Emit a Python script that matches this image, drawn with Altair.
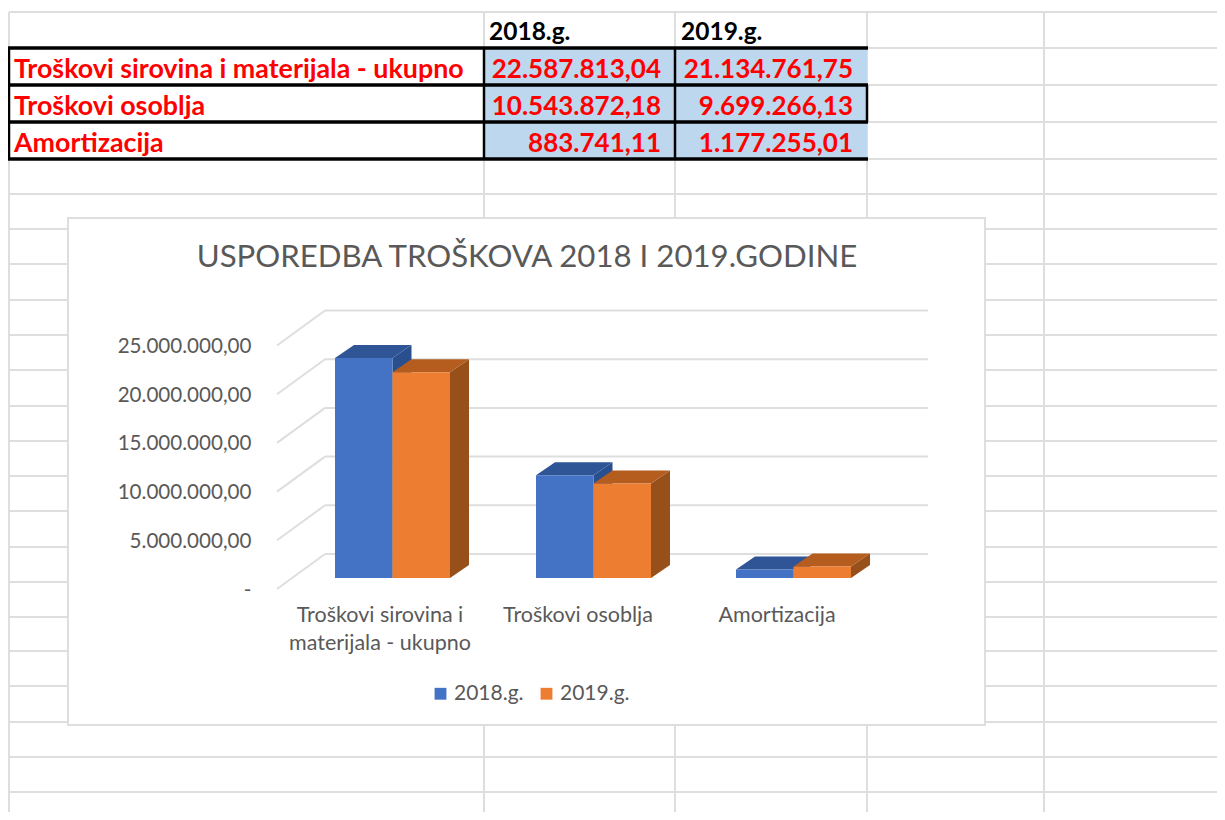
import altair as alt
import pandas as pd

# ---- data ----
CATEGORIES = ["Troškovi sirovina i materijala - ukupno", "Troškovi osoblja", "Amortizacija"]
AXIS_LABELS = ["Troškovi sirovina i\nmaterijala - ukupno", "Troškovi osoblja", "Amortizacija"]
SERIES = ["2018.g.", "2019.g."]
VALUES_2018 = [22587813.04, 10543872.18, 883741.11]
VALUES_2019 = [21134761.75, 9699266.13, 1177255.01]
TEXT_2018 = ["22.587.813,04", "10.543.872,18", "883.741,11"]
TEXT_2019 = ["21.134.761,75", "9.699.266,13", "1.177.255,01"]
TICKS = [0, 5000000, 10000000, 15000000, 20000000, 25000000]
TITLE = "USPOREDBA TROŠKOVA  2018 I 2019.GODINE"

# ---- layout (page pixels) ----
W, H = 1209, 804
LEFT, TOP = 8, 8
GRID_Y = [12, 48, 85, 122, 159, 194, 229, 264, 300, 335, 370, 406, 441, 476, 511, 547,
          582, 617, 651, 686, 722, 757, 792]
GRID_X = [484, 675, 867, 1044]
BOX = (68, 985, 218, 725)
ROW_Y = [69.5, 106.5, 143.5]
BASE_PX = 578.0
PX_PER_UNIT = 9.74e-6
DEPTH_DX, DEPTH_DY = 19, 13
BAR_W = 57.5
GROUP_LEFT = [335, 536, 736]
CAT_LABEL_X = [380, 578, 777]
BLUE, ORANGE = "#4472C4", "#ED7D31"
BLUE_TOP, BLUE_SIDE = "#2F5597", "#2A4F8F"
ORANGE_TOP, ORANGE_SIDE = "#B55D1E", "#98501A"
GRAY = "#595959"
LINE = "#DEDEDE"
RED = "#FF0000"
FONT = "Lato"

X = alt.Scale(domain=[LEFT, LEFT + W], range=[0, W], nice=False, zero=False)
SHEET_Y = alt.Scale(domain=[TOP + H, TOP], nice=False, zero=False)
VALUE_Y = alt.Scale(domain=[-(TOP + H - BASE_PX) / PX_PER_UNIT, (BASE_PX - TOP) / PX_PER_UNIT],
                    nice=False, zero=False)
px = lambda n: n / PX_PER_UNIT


def sx(f="x"):
    return alt.X(f"{f}:Q", scale=X, axis=None)


def sy(f="y"):
    return alt.Y(f"{f}:Q", scale=SHEET_Y, axis=None)


def hrules(rows, color, width):
    df = pd.DataFrame(rows, columns=["y", "x", "x2"])
    return alt.Chart(df).mark_rule(color=color, strokeWidth=width).encode(
        x=sx(), x2="x2:Q", y=sy())


def vrules(rows, color, width):
    df = pd.DataFrame(rows, columns=["x", "y", "y2"])
    return alt.Chart(df).mark_rule(color=color, strokeWidth=width).encode(
        x=sx(), y=sy(), y2="y2:Q")


def texts(rows, **kw):
    df = pd.DataFrame(rows, columns=["x", "y", "t"])
    return alt.Chart(df).mark_text(font=FONT, baseline="middle", lineBreak="\n", **kw).encode(
        x=sx(), y=sy(), text="t:N")


def rect(rows, **kw):
    df = pd.DataFrame(rows, columns=["x", "x2", "y", "y2"])
    return alt.Chart(df).mark_rect(**kw).encode(x=sx(), x2="x2:Q", y=sy(), y2="y2:Q")


layers = []
# spreadsheet grid
layers.append(hrules([(y, 9, W + LEFT) for y in GRID_Y], LINE, 2))
layers.append(vrules([(x, 12, TOP + H) for x in GRID_X] + [(9, 12, 48), (9, 159, TOP + H)], LINE, 2))

# table
layers.append(rect([(484, 867, 48, 159)], color="#BDD7EE"))
layers.append(hrules([(y, 8, 868) for y in [48, 85, 122, 159]], "#000000", 3.5))
layers.append(vrules([(9, 47, 160), (484, 47, 160), (675, 47, 160), (867, 85, 122)], "#000000", 2.5))
layers.append(texts([(489, 33, SERIES[0]), (681, 33, SERIES[1])],
                    align="left", fontSize=24.5, fontWeight="bold", color="#000000"))
layers.append(texts([(14, y, c) for y, c in zip(ROW_Y, CATEGORIES)],
                    align="left", fontSize=26.8, fontWeight="bold", color=RED))
layers.append(texts([(661, y, t) for y, t in zip(ROW_Y, TEXT_2018)] +
                    [(853, y, t) for y, t in zip(ROW_Y, TEXT_2019)],
                    align="right", fontSize=26, fontWeight="bold", color=RED))

# chart box
layers.append(rect([(BOX[0], BOX[1], BOX[2], BOX[3])], fill="#FFFFFF", stroke=LINE, strokeWidth=2))
layers.append(texts([(527, 258, TITLE)], align="center", fontSize=31.2, fontWeight=400, color=GRAY))
layers.append(texts([(x, 616, t) for x, t in zip(CAT_LABEL_X, AXIS_LABELS)],
                    align="center", fontSize=21.5, color=GRAY, lineHeight=28))

# back wall gridlines and floor/side diagonals, all in value units
back = pd.DataFrame({"v": [t + px(578 - 554) for t in TICKS], "x": 325, "x2": 928})
layers.append(alt.Chart(back).mark_rule(color=LINE, strokeWidth=2).encode(
    x=sx(), x2="x2:Q", y=alt.Y("v:Q", scale=VALUE_Y, axis=None)))
diag_rows = []
for t in TICKS:
    diag_rows.append({"tick": t, "x": 277, "v": t - px(589 - 578)})
    diag_rows.append({"tick": t, "x": 325, "v": t + px(578 - 554)})
layers.append(alt.Chart(pd.DataFrame(diag_rows)).mark_line(color=LINE, strokeWidth=2).encode(
    x=sx(), y=alt.Y("v:Q", scale=VALUE_Y, axis=None), detail="tick:N"))

# the y axis with its labels
layers.append(alt.Chart(pd.DataFrame({"v": TICKS})).mark_point(opacity=0).encode(
    y=alt.Y("v:Q", scale=VALUE_Y, axis=alt.Axis(
        orient="left", values=TICKS, domain=False, ticks=False, grid=False, title=None,
        labelExpr="datum.value == 0 ? '-' : format(datum.value / 1000000, 'd') + '.000.000,00'",
        labelFont=FONT, labelFontSize=20.6, labelColor=GRAY, labelPadding=0, labelOffset=12,
        offset=-243, zindex=1, labelOverlap=False))))

# bars: side and top faces, then the front
legend = alt.Legend(orient="none", legendX=422, legendY=675, direction="horizontal", title=None,
                    symbolType="square", symbolSize=140, symbolStrokeWidth=0, labelFont=FONT,
                    labelFontSize=21, labelColor=GRAY, columnPadding=12, labelOffset=3, values=SERIES)
color = alt.Color("series:N", scale=alt.Scale(domain=SERIES, range=[BLUE, ORANGE]), legend=legend)
yv = lambda f: alt.Y(f"{f}:Q", scale=VALUE_Y, axis=None, stack=None)
for s, (name, vals, top_c, side_c) in enumerate(zip(SERIES, [VALUES_2018, VALUES_2019],
                                                    [BLUE_TOP, ORANGE_TOP], [BLUE_SIDE, ORANGE_SIDE])):
    side, top, front = [], [], []
    for c, (x0, v) in enumerate(zip(GROUP_LEFT, vals)):
        xl = x0 + s * BAR_W
        xr = xl + BAR_W
        d = px(DEPTH_DY)
        side += [{"c": c, "x": xr, "y": 0, "y2": v},
                 {"c": c, "x": xr + DEPTH_DX, "y": d, "y2": v + d}]
        top += [{"c": c, "x": xl, "y": v, "y2": v},
                {"c": c, "x": xl + DEPTH_DX, "y": v, "y2": v + d},
                {"c": c, "x": xr, "y": v, "y2": v + d},
                {"c": c, "x": xr + DEPTH_DX, "y": v + d, "y2": v + d}]
        front.append({"series": name, "x": xl, "x2": xr, "y": 0, "y2": v})
    layers.append(alt.Chart(pd.DataFrame(side)).mark_area(color=side_c).encode(
        x=sx(), y=yv("y"), y2="y2:Q", detail="c:N"))
    layers.append(alt.Chart(pd.DataFrame(top)).mark_area(color=top_c).encode(
        x=sx(), y=yv("y"), y2="y2:Q", detail="c:N"))
    layers.append(alt.Chart(pd.DataFrame(front)).mark_rect().encode(
        x=sx(), x2="x2:Q", y=yv("y"), y2="y2:Q", color=color))

chart = alt.layer(*layers).resolve_scale(y="independent").properties(
    width=W, height=H, padding=0, autosize=alt.AutoSizeParams(type="none"),
    background="#FFFFFF",
).configure_view(stroke=None)

chart.save("out.html", embed_options={"renderer": "svg", "actions": False})
